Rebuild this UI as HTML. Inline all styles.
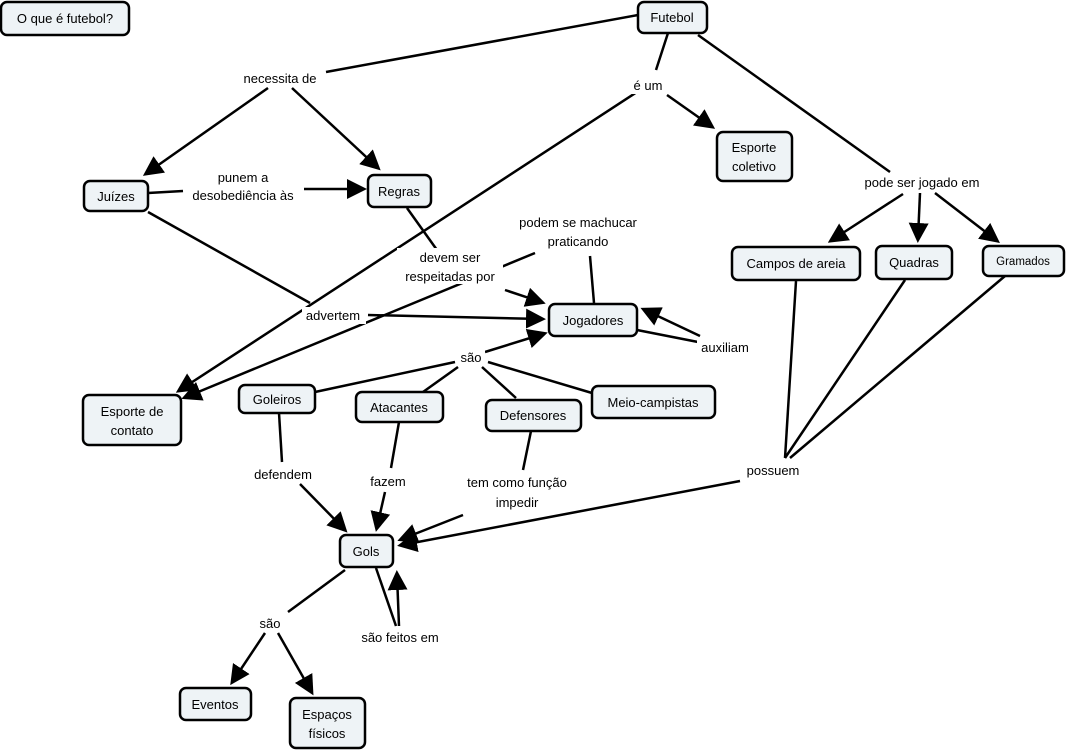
<!DOCTYPE html>
<html><head><meta charset="utf-8"><style>
html,body{margin:0;padding:0;background:#fff;}
svg{display:block;}
text{font-family:"Liberation Sans",sans-serif;font-size:13px;fill:#000;text-anchor:middle;}
.n{fill:#eef3f6;stroke:#000;stroke-width:2.5;}
.l{stroke:#000;stroke-width:2.5;fill:none;}
.a{stroke:#000;stroke-width:2.5;fill:none;marker-end:url(#ar);}
</style></head><body>
<svg width="1066" height="752" viewBox="0 0 1066 752" xmlns="http://www.w3.org/2000/svg">
<defs><marker id="ar" markerWidth="8" markerHeight="8" refX="6" refY="4" orient="auto" markerUnits="strokeWidth" viewBox="0 0 8 8"><path d="M0,0 L8,4 L0,8 z" fill="#000"/></marker></defs>
<!-- lines -->
<line class="l" x1="638" y1="15" x2="326" y2="72"/>
<line class="a" x1="268" y1="88" x2="147" y2="173"/>
<line class="a" x1="292" y1="88" x2="377" y2="167"/>
<line class="l" x1="668" y1="33" x2="656" y2="70"/>
<line class="a" x1="667" y1="95" x2="711" y2="126"/>
<line class="a" x1="637" y1="92" x2="180" y2="390"/>
<line class="l" x1="698" y1="35" x2="890" y2="172"/>
<line class="a" x1="903" y1="194" x2="832" y2="240"/>
<line class="a" x1="920" y1="193" x2="918" y2="238"/>
<line class="a" x1="935" y1="193" x2="996" y2="240"/>
<line class="l" x1="148" y1="193" x2="183" y2="191"/>
<line class="a" x1="304" y1="189" x2="362" y2="189"/>
<line class="l" x1="407" y1="208" x2="437" y2="250"/>
<line class="a" x1="505" y1="290" x2="541" y2="302"/>
<line class="l" x1="148" y1="212" x2="310" y2="303"/>
<line class="a" x1="368" y1="315" x2="541" y2="319"/>
<line class="l" x1="594" y1="303" x2="590" y2="256"/>
<line class="a" x1="535" y1="253" x2="186" y2="397"/>
<line class="l" x1="637" y1="330" x2="698" y2="342"/>
<line class="a" x1="700" y1="336" x2="645" y2="310"/>
<line class="a" x1="485" y1="352" x2="543" y2="334"/>
<line class="l" x1="315" y1="392" x2="455" y2="362"/>
<line class="l" x1="423" y1="392" x2="458" y2="367"/>
<line class="l" x1="516" y1="398" x2="482" y2="367"/>
<line class="l" x1="592" y1="393" x2="488" y2="362"/>
<line class="l" x1="279" y1="413" x2="282" y2="462"/>
<line class="a" x1="300" y1="484" x2="344" y2="529"/>
<line class="l" x1="399" y1="422" x2="391" y2="468"/>
<line class="a" x1="385" y1="492" x2="377" y2="527"/>
<line class="l" x1="531" y1="431" x2="523" y2="470"/>
<line class="a" x1="463" y1="515" x2="402" y2="539"/>
<line class="l" x1="796" y1="281" x2="785" y2="458"/>
<line class="l" x1="905" y1="280" x2="785" y2="458"/>
<line class="l" x1="1005" y1="276" x2="790" y2="458"/>
<line class="a" x1="740" y1="481" x2="402" y2="545"/>
<line class="l" x1="345" y1="570" x2="288" y2="612"/>
<line class="a" x1="265" y1="633" x2="233" y2="681"/>
<line class="a" x1="278" y1="633" x2="311" y2="691"/>
<line class="l" x1="376" y1="568" x2="396" y2="626"/>
<line class="a" x1="399" y1="626" x2="397" y2="575"/>
<!-- label backgrounds -->
<g fill="#fff">
<rect x="238" y="69" width="86" height="18"/>
<rect x="630" y="77" width="36" height="17"/>
<rect x="858" y="174" width="130" height="18"/>
<rect x="184" y="168" width="118" height="36"/>
<rect x="397" y="248" width="106" height="36"/>
<rect x="518" y="213" width="120" height="37"/>
<rect x="302" y="307" width="64" height="17"/>
<rect x="697" y="339" width="56" height="17"/>
<rect x="457" y="349" width="28" height="17"/>
<rect x="249" y="466" width="68" height="17"/>
<rect x="366" y="472" width="44" height="17"/>
<rect x="460" y="473" width="115" height="38"/>
<rect x="744" y="462" width="58" height="17"/>
<rect x="257" y="614" width="26" height="17"/>
<rect x="354" y="629" width="92" height="17"/>
</g>
<!-- labels -->
<text x="280" y="83">necessita de</text>
<text x="648" y="90">é um</text>
<text x="922" y="187">pode ser jogado em</text>
<text x="243" y="182">punem a</text>
<text x="243" y="200">desobediência às</text>
<text x="450" y="262">devem ser</text>
<text x="450" y="281">respeitadas por</text>
<text x="578" y="227">podem se machucar</text>
<text x="578" y="246">praticando</text>
<text x="333" y="320">advertem</text>
<text x="725" y="352">auxiliam</text>
<text x="471" y="362">são</text>
<text x="283" y="479">defendem</text>
<text x="388" y="486">fazem</text>
<text x="517" y="487">tem como função</text>
<text x="517" y="507">impedir</text>
<text x="773" y="475">possuem</text>
<text x="270" y="628">são</text>
<text x="400" y="642">são feitos em</text>
<!-- nodes -->
<rect class="n" x="1" y="2" width="128" height="33" rx="6"/><text x="65" y="23">O que é futebol?</text>
<rect class="n" x="638" y="2" width="69" height="31" rx="6"/><text x="672" y="22">Futebol</text>
<rect class="n" x="84" y="181" width="64" height="30" rx="6"/><text x="116" y="201">Juízes</text>
<rect class="n" x="368" y="175" width="63" height="32" rx="6"/><text x="399" y="196">Regras</text>
<rect class="n" x="717" y="132" width="75" height="49" rx="6"/><text x="754" y="152">Esporte</text><text x="754" y="171">coletivo</text>
<rect class="n" x="732" y="247" width="128" height="33" rx="6"/><text x="796" y="268">Campos de areia</text>
<rect class="n" x="876" y="246" width="76" height="33" rx="6"/><text x="914" y="267">Quadras</text>
<rect class="n" x="983" y="246" width="81" height="30" rx="6"/><text x="1023" y="265" style="font-size:11.5px">Gramados</text>
<rect class="n" x="549" y="304" width="88" height="32" rx="6"/><text x="593" y="325">Jogadores</text>
<rect class="n" x="83" y="395" width="98" height="50" rx="6"/><text x="132" y="416">Esporte de</text><text x="132" y="435">contato</text>
<rect class="n" x="239" y="385" width="76" height="28" rx="6"/><text x="277" y="404">Goleiros</text>
<rect class="n" x="356" y="392" width="87" height="30" rx="6"/><text x="399" y="412">Atacantes</text>
<rect class="n" x="486" y="400" width="95" height="31" rx="6"/><text x="533" y="420">Defensores</text>
<rect class="n" x="592" y="386" width="123" height="32" rx="6"/><text x="653" y="407">Meio-campistas</text>
<rect class="n" x="340" y="535" width="53" height="32" rx="6"/><text x="366" y="556">Gols</text>
<rect class="n" x="180" y="688" width="71" height="32" rx="6"/><text x="215" y="709">Eventos</text>
<rect class="n" x="290" y="698" width="75" height="50" rx="6"/><text x="327" y="719">Espaços</text><text x="327" y="738">físicos</text>
</svg>
</body></html>
